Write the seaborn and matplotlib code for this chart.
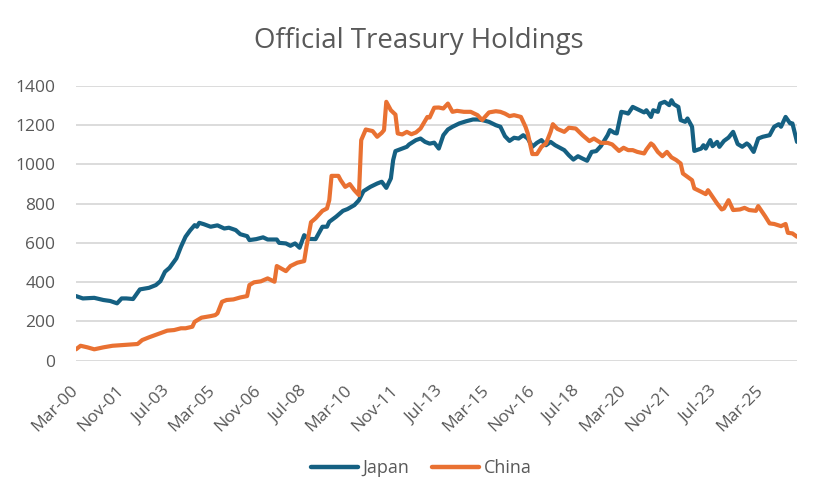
import matplotlib
matplotlib.use("Agg")
import matplotlib.pyplot as plt
import seaborn as sns
import pandas as pd

# ---- data (month offset from Mar-2000 on the chart's axis, value in $bn) ----
jp_month = [0, 3, 8, 12, 15, 18, 20, 22, 25, 28, 32, 35, 37, 39, 41, 44, 46, 48, 50, 52, 53, 54,
            56, 59, 62, 65, 67, 70, 72, 75, 76, 79, 82, 84, 88, 89, 92, 94, 96, 98, 100, 102,
            105, 108, 110, 111, 114, 117, 119, 122, 124, 126, 129, 132, 134, 136, 138, 139, 140,
            143, 145, 146, 149, 151, 153, 155, 157, 159, 161, 163, 165, 168, 171, 174, 176, 178,
            181, 184, 186, 188, 190, 192, 194, 196, 198, 200, 202, 204, 206, 208, 210, 214, 216,
            218, 220, 222, 224, 226, 228, 230, 233, 234, 236, 237, 239, 241, 242, 244, 247, 249,
            250, 252, 253, 255, 256, 258, 260, 261, 262, 264, 265, 267, 268, 270, 271, 274, 275,
            276, 278, 279, 281, 282, 284, 286, 288, 290, 292, 294, 295, 297, 299, 301, 304, 306,
            308, 309, 311, 313, 314, 316]
jp_value = [329, 317, 320, 309, 304, 292, 317, 317, 314, 363, 371, 385, 405, 453, 473, 521, 580, 631, 663, 690, 682, 702,
            695, 682, 689, 673, 677, 665, 644, 634, 614, 619, 628, 617, 617, 600, 597, 585, 597, 575, 639, 620,
            619, 682, 682, 707, 733, 763, 772, 792, 817, 863, 885, 902, 911, 880, 928, 1021, 1067,
            1080, 1089, 1101, 1123, 1131, 1114, 1105, 1110, 1080, 1148, 1177, 1191, 1208, 1219, 1228, 1228, 1225,
            1216, 1199, 1191, 1143, 1119, 1135, 1131, 1148, 1131, 1089, 1109, 1123, 1097, 1114, 1097, 1072, 1046,
            1024, 1041, 1029, 1018, 1063, 1067, 1092, 1148, 1174, 1160, 1157, 1267, 1262, 1258, 1292, 1275, 1264,
            1275, 1241, 1275, 1267, 1309, 1318, 1301, 1326, 1306, 1292, 1225, 1216, 1233, 1191, 1068, 1080, 1097,
            1080, 1123, 1092, 1114, 1089, 1119, 1136, 1165, 1103, 1089, 1106, 1097, 1063, 1131, 1140, 1148, 1191,
            1204, 1191, 1241, 1208, 1208, 1114]

cn_month = [0, 2, 5, 8, 12, 16, 21, 27, 29, 32, 36, 40, 43, 46, 48, 51, 52, 55, 59, 61, 62, 64, 66, 69,
            72, 75, 76, 78, 81, 84, 87, 88, 92, 94, 97, 100, 101, 103, 105, 108, 110, 111, 112, 115,
            116, 118, 120, 122, 124, 125, 127, 130, 132, 134, 135, 136, 138, 140, 141, 143, 145, 147,
            149, 151, 153, 154, 155, 157, 159, 161, 163, 165, 167, 170, 173, 176, 178, 181, 184, 186,
            188, 190, 192, 195, 197, 198, 200, 202, 204, 206, 208, 209, 211, 214, 216, 219, 222, 225,
            227, 230, 233, 235, 238, 240, 242, 244, 246, 249, 250, 252, 253, 255, 257, 259, 261, 263,
            265, 266, 268, 270, 271, 274, 276, 277, 279, 281, 283, 284, 286, 288, 291, 293, 295, 298,
            299, 302, 304, 306, 309, 311, 312, 314, 316]
cn_value = [58, 76, 68, 58, 68, 76, 80, 85, 105, 119, 136, 153, 156, 165, 165, 173, 198, 219, 227, 232, 241, 300, 309, 312,
            322, 329, 385, 399, 404, 419, 402, 482, 456, 482, 499, 507, 580, 705, 725, 763, 775, 817, 941, 941,
            919, 885, 899, 868, 843, 1123, 1177, 1169, 1140, 1160, 1174, 1318, 1275, 1253, 1157, 1152, 1165, 1153,
            1162, 1182, 1221, 1241, 1238, 1288, 1289, 1284, 1309, 1267, 1272, 1267, 1267, 1250, 1225, 1264, 1270, 1267,
            1258, 1245, 1250, 1241, 1191, 1157, 1052, 1052, 1089, 1106, 1165, 1204, 1180, 1165, 1186, 1182, 1148, 1118,
            1131, 1109, 1109, 1101, 1068, 1084, 1072, 1072, 1063, 1055, 1075, 1106, 1097, 1063, 1041, 1063, 1035, 1022,
            1004, 953, 936, 919, 877, 860, 848, 868, 834, 800, 770, 775, 817, 767, 770, 778, 767, 763,
            787, 736, 699, 696, 685, 696, 651, 648, 631]

tick_labels = ["Mar-00", "Nov-01", "Jul-03", "Mar-05", "Nov-06", "Jul-08", "Mar-10", "Nov-11",
               "Jul-13", "Mar-15", "Nov-16", "Jul-18", "Mar-20", "Nov-21", "Jul-23", "Mar-25"]
axis_months = 316
series_names = ["Japan", "China"]
series_colors = ["#156082", "#E97132"]

df = pd.concat([
    pd.DataFrame({"month": jp_month, "value": jp_value, "country": "Japan"}),
    pd.DataFrame({"month": cn_month, "value": cn_value, "country": "China"}),
], ignore_index=True)

sns.set_theme(style="white")
plt.rcParams['font.family'] = ['Open Sans', 'DejaVu Sans']
text_color = "#595959"

fig = plt.figure(figsize=(8.34, 4.86), dpi=100)
ax = fig.add_axes([76 / 834, 1 - 360.7 / 486, 721 / 834, 275 / 486])

sns.lineplot(data=df, x="month", y="value", hue="country", hue_order=series_names,
             palette=dict(zip(series_names, series_colors)), linewidth=3.0, ax=ax,
             estimator=None, sort=True)
for ln in ax.get_lines():
    ln.set_solid_joinstyle("round")
    ln.set_solid_capstyle("round")

ax.set_xlim(0, axis_months)
ax.set_ylim(0, 1400)
ax.set_yticks(range(0, 1401, 200))
ax.set_xticks(range(0, 20 * len(tick_labels), 20))
ax.set_xticklabels(tick_labels, rotation=45, ha="right", va="center", rotation_mode="anchor")
ax.set_xlabel("")
ax.set_ylabel("")
ax.grid(axis="y", color="#D9D9D9", linewidth=1.3)
ax.grid(axis="x", visible=False)
ax.set_axisbelow(True)
for s in ax.spines.values():
    s.set_visible(False)
ax.tick_params(axis="y", length=0, colors=text_color, labelsize=12.5, pad=15)
ax.tick_params(axis="x", length=0, colors=text_color, labelsize=12.5, pad=20)

handles, labels = ax.get_legend_handles_labels()
ax.get_legend().remove()
leg = fig.legend(handles, labels, loc="center", bbox_to_anchor=(0.505, 1 - 468 / 486),
                 ncol=2, frameon=False, fontsize=13, handlelength=2.6, handletextpad=0.25,
                 columnspacing=1.3)
for t in leg.get_texts():
    t.set_color(text_color)
for h in leg.legend_handles:
    h.set_linewidth(3.2)

fig.text(0.502, 1 - 47.7 / 486, "Official Treasury Holdings", ha="center", va="baseline",
         fontsize=19.9, color=text_color)

fig.savefig("out.png", dpi=100)
